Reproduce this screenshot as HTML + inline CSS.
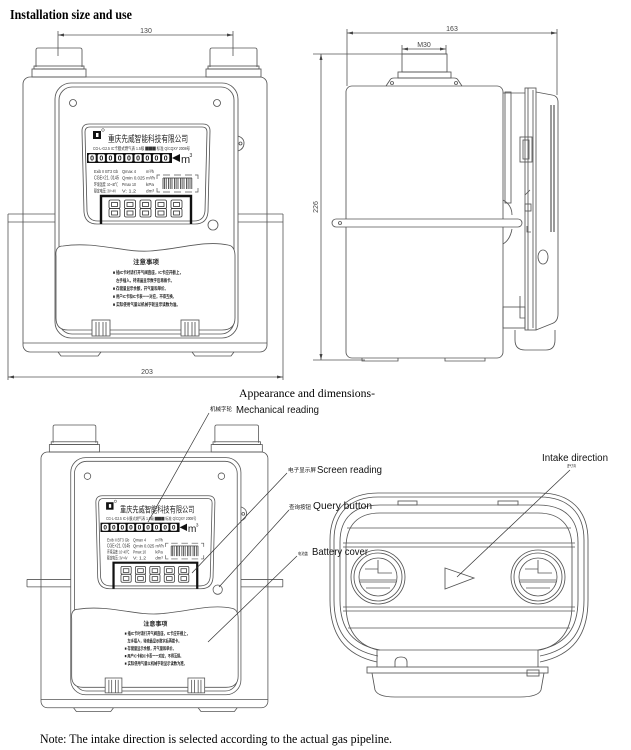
<!DOCTYPE html>
<html><head><meta charset="utf-8"><style>
html,body{margin:0;padding:0;background:#fff;}
svg{display:block}
</style></head><body>
<svg width="631" height="750" viewBox="0 0 631 750" xmlns="http://www.w3.org/2000/svg">
<defs>
<marker id="a" viewBox="0 0 8 4" refX="8" refY="2" markerWidth="6" markerHeight="3" orient="auto-start-reverse" markerUnits="userSpaceOnUse"><path d="M0,0 L8,2 L0,4z" fill="#444"/></marker>
<g id="fv">
 <g fill="none" stroke="#555" stroke-width="0.85">
  <path d="M36,67 V50 Q36,48 38,48 H80 Q82,48 82,50 V67"/>
  <rect x="34" y="66" width="50" height="3"/>
  <rect x="32" y="69" width="54" height="8"/>
  <path d="M210,67 V50 Q210,48 212,48 H255 Q257,48 257,50 V67"/>
  <rect x="208" y="66" width="51" height="3"/>
  <rect x="206" y="69" width="55" height="8"/>
  <rect x="23" y="77" width="244" height="275" rx="7"/>
  <line x1="23" y1="343" x2="267" y2="343"/>
  <path d="M58,352 L61,356 H98 L101,352 M192,352 L195,356 H231 L234,352"/>
  <rect x="55" y="83" width="183" height="255" rx="16"/>
  <rect x="59" y="87" width="175" height="247" rx="13"/>
  <path d="M238,136 Q244,138 244,143 Q244,149 238,151"/>
  <circle cx="240.5" cy="143.5" r="1.5"/>
  <circle cx="73" cy="103" r="3.5"/>
  <circle cx="217" cy="103" r="3.5"/>
  <circle cx="213" cy="225" r="5"/>
  <path d="M89,124 H203 Q210,124 210,131 L208,212 Q207,224 195,224 H97 Q85,224 84,212 L82,131 Q82,124 89,124 Z"/>
  <path d="M90,127 H202 Q207,127 207,132 L205,211 Q204,221 194,221 H98 Q88,221 87,211 L85,132 Q85,127 90,127 Z"/>
  <path d="M8,214 H55 M8,222 H55 M238,214 H283 M238,222 H283"/>
  <path d="M56,256 Q55,246 63,246 C95,241 125,253 150,251 C180,249 205,240 228,245 Q235,246 235,256 V318 Q235,330 222,330 H68 Q56,330 56,318 Z" fill="#fff"/>
  <rect x="92" y="320" width="18" height="16" fill="#fff"/>
  <path d="M96,322 V336 M99,322 V336 M103,322 V336 M106,322 V336"/>
  <rect x="181" y="320" width="18" height="16" fill="#fff"/>
  <path d="M185,322 V336 M188,322 V336 M192,322 V336 M195,322 V336"/>
  <path d="M160,175 H157 V179 M157,188 V192 H160 M195,175 H198 V179 M198,188 V192 H195 M163,175 H170 M174,175 H181 M185,175 H192 M163,192 H170 M174,192 H181 M185,192 H192" stroke-width="0.7"/>
  <path d="M163,178 H192 M163,178V189 M164.6,178V189 M166.2,178V189 M168.6,178V189 M170.2,178V189 M172,178V189 M174.5,178V189 M176.1,178V189 M178,178V189 M180.5,178V189 M182.1,178V189 M184,178V189 M186.5,178V189 M188.1,178V189 M190,178V189 M191.8,178V189" stroke="#333" stroke-width="0.8"/>
  <g stroke="#333" stroke-width="0.8">
   <rect x="109" y="200" width="11" height="8.5" rx="1.5"/><rect x="109" y="208.5" width="11" height="8.5" rx="1.5"/><rect x="111.5" y="202.5" width="6" height="4"/><rect x="111.5" y="211" width="6" height="4"/>
   <rect x="124.5" y="200" width="11" height="8.5" rx="1.5"/><rect x="124.5" y="208.5" width="11" height="8.5" rx="1.5"/><rect x="127" y="202.5" width="6" height="4"/><rect x="127" y="211" width="6" height="4"/>
   <rect x="140" y="200" width="11" height="8.5" rx="1.5"/><rect x="140" y="208.5" width="11" height="8.5" rx="1.5"/><rect x="142.5" y="202.5" width="6" height="4"/><rect x="142.5" y="211" width="6" height="4"/>
   <rect x="155.5" y="200" width="11" height="8.5" rx="1.5"/><rect x="155.5" y="208.5" width="11" height="8.5" rx="1.5"/><rect x="158" y="202.5" width="6" height="4"/><rect x="158" y="211" width="6" height="4"/>
   <rect x="171" y="200" width="11" height="8.5" rx="1.5"/><rect x="171" y="208.5" width="11" height="8.5" rx="1.5"/><rect x="173.5" y="202.5" width="6" height="4"/><rect x="173.5" y="211" width="6" height="4"/>
  </g>
  <path d="M101,224 V196 H191 V224" stroke="#111" stroke-width="2.4"/>
 </g>
 <rect x="93" y="131" width="8" height="8" fill="#111"/>
 <rect x="96" y="133" width="2.5" height="4" fill="#fff"/>
 <circle cx="103" cy="130" r="1.3" fill="none" stroke="#333" stroke-width="0.5"/>
 <text x="108" y="142" font-family="Liberation Sans, Noto Sans CJK SC, sans-serif" font-size="9" fill="#222" textLength="80" lengthAdjust="spacingAndGlyphs">重庆先威智能科技有限公司</text>
 <text x="93" y="150" font-family="Liberation Sans, Noto Sans CJK SC, sans-serif" font-size="4.5" fill="#333" textLength="97" lengthAdjust="spacingAndGlyphs">CG-L-G2.5  IC卡膜式燃气表  1.5级 ▇▇▇ 标准  Q/CQXY 2008号</text>
 <rect x="87" y="153" width="85" height="10" fill="#111"/>
 <g font-family="Liberation Sans, sans-serif" font-size="7" font-weight="bold" fill="#111" text-anchor="middle">
  <rect x="88.5" y="154.3" width="7.2" height="7.4" rx="1.5" fill="#fff"/><text x="92.1" y="160.6">0</text>
  <rect x="97.7" y="154.3" width="7.2" height="7.4" rx="1.5" fill="#fff"/><text x="101.3" y="160.6">0</text>
  <rect x="106.9" y="154.3" width="7.2" height="7.4" rx="1.5" fill="#fff"/><text x="110.5" y="160.6">0</text>
  <rect x="116.1" y="154.3" width="7.2" height="7.4" rx="1.5" fill="#fff"/><text x="119.7" y="160.6">0</text>
  <rect x="125.3" y="154.3" width="7.2" height="7.4" rx="1.5" fill="#fff"/><text x="128.9" y="160.6">0</text>
  <rect x="134.5" y="154.3" width="7.2" height="7.4" rx="1.5" fill="#fff"/><text x="138.1" y="160.6">0</text>
  <rect x="143.7" y="154.3" width="7.2" height="7.4" rx="1.5" fill="#fff"/><text x="147.3" y="160.6">0</text>
  <rect x="152.9" y="154.3" width="7.2" height="7.4" rx="1.5" fill="#fff"/><text x="156.5" y="160.6">0</text>
  <rect x="162.1" y="154.3" width="7.2" height="7.4" rx="1.5" fill="#fff"/><text x="165.7" y="160.6">0</text>
 </g>
 <polygon points="172,158 180,154 180,162" fill="#111"/>
 <text x="181" y="163" font-family="Liberation Sans, sans-serif" font-size="11" fill="#222">m</text>
 <text x="189.5" y="157" font-family="Liberation Sans, sans-serif" font-size="5" fill="#222">3</text>
 <g font-family="Liberation Sans, Noto Sans CJK SC, sans-serif" font-size="4.8" fill="#333">
  <text x="94" y="173" textLength="24" lengthAdjust="spacingAndGlyphs">Exib II BT3 Gb</text>
  <text x="122" y="173" textLength="14" lengthAdjust="spacingAndGlyphs">Qmax 4</text>
  <text x="146" y="173" textLength="8" lengthAdjust="spacingAndGlyphs">m³/h</text>
  <text x="94" y="179.5" font-size="5.5" textLength="25" lengthAdjust="spacingAndGlyphs">CGE×21. 0145</text>
  <text x="122" y="179.5" textLength="33" lengthAdjust="spacingAndGlyphs">Qmin 0.025 m³/h</text>
  <text x="94" y="186" textLength="24" lengthAdjust="spacingAndGlyphs">环境温度: 10~40℃</text>
  <text x="122" y="186" textLength="14" lengthAdjust="spacingAndGlyphs">Pmax 10</text>
  <text x="146" y="186" textLength="8" lengthAdjust="spacingAndGlyphs">kPa</text>
  <text x="94" y="192.5" textLength="22" lengthAdjust="spacingAndGlyphs">额定电压: 3V~4V</text>
  <text x="122" y="192.5" textLength="14" lengthAdjust="spacingAndGlyphs">V:  1.2</text>
  <text x="146" y="192.5" textLength="8" lengthAdjust="spacingAndGlyphs">dm³</text>
 </g>
 <g font-family="Liberation Sans, Noto Sans CJK SC, sans-serif" font-weight="bold" fill="#222">
  <text x="146" y="264" font-size="6.5" text-anchor="middle">注意事项</text>
  <text x="113" y="274" font-size="4.8" textLength="70" lengthAdjust="spacingAndGlyphs">■ 插IC卡时请打开气阀直座，IC卡应开截上，</text>
  <text x="116" y="282" font-size="4.8" textLength="58" lengthAdjust="spacingAndGlyphs">左手插入，待液晶显示数字后再拨卡。</text>
  <text x="113" y="290" font-size="4.8" textLength="55" lengthAdjust="spacingAndGlyphs">■ 存储量显示余额，开气量和单价。</text>
  <text x="113" y="298" font-size="4.8" textLength="63" lengthAdjust="spacingAndGlyphs">■ 用户IC卡和IC卡表一一对应，不得互换。</text>
  <text x="113" y="306" font-size="4.8" textLength="67" lengthAdjust="spacingAndGlyphs">■ 实际使用气量以机械字轮显示读数为准。</text>
 </g>
</g>
</defs>

<text x="10" y="19" font-family="Liberation Serif, serif" font-weight="bold" font-size="13.5" fill="#000" textLength="122" lengthAdjust="spacingAndGlyphs">Installation size and use</text>

<!-- top front view -->
<use href="#fv"/>
<g fill="none" stroke="#555" stroke-width="0.8">
 <path d="M58,31 V56 M233,31 V56"/>
 <line x1="58" y1="35" x2="233" y2="35" marker-start="url(#a)" marker-end="url(#a)"/>
 <path d="M8,214 V380 M283,214 V380"/>
 <line x1="8" y1="377" x2="283" y2="377" marker-start="url(#a)" marker-end="url(#a)"/>
</g>
<g font-family="Liberation Sans, sans-serif" font-size="7" fill="#444" text-anchor="middle">
 <text x="146" y="33">130</text>
 <text x="147" y="374">203</text>
 <text x="452" y="31">163</text>
 <text x="424" y="47">M30</text>
 <text x="0" y="0" transform="translate(318,207) rotate(-90)">226</text>
</g>

<!-- side view -->
<g fill="none" stroke="#555" stroke-width="0.8">
 <path d="M347,29 V86 M557,29 V95"/>
 <line x1="347" y1="33" x2="557" y2="33" marker-start="url(#a)" marker-end="url(#a)"/>
 <path d="M402,45 V54 M446,45 V54"/>
 <line x1="402" y1="49" x2="446" y2="49" marker-start="url(#a)" marker-end="url(#a)"/>
 <path d="M313,54 H447 M313,360 H365"/>
 <line x1="321" y1="54" x2="321" y2="360" marker-start="url(#a)" marker-end="url(#a)"/>
</g>
<g fill="none" stroke="#555" stroke-width="0.85">
 <rect x="402" y="54" width="45" height="18"/>
 <rect x="398" y="72" width="53" height="6"/>
 <path d="M386,86 L390,80 Q391,78 394,78 H454 Q457,78 458,80 L462,86"/>
 <circle cx="392" cy="83" r="1.5"/><circle cx="456" cy="83" r="1.5"/>
 <rect x="346" y="86" width="157" height="272" rx="6"/>
 <path d="M362,358 V361 H398 V358 M445,358 V361 H485 V358"/>
 <path d="M503,200 Q512,205 512,215 M512,229 Q510,240 503,244"/>
 <rect x="332" y="219" width="190" height="8" rx="4" fill="#fff"/>
 <circle cx="340" cy="223" r="1.5"/>
 <path d="M503,93 H525"/>
 <rect x="505" y="92" width="6" height="111"/>
 <rect x="525" y="88" width="11" height="242"/>
 <line x1="528" y1="88" x2="528" y2="330"/>
 <line x1="533" y1="90" x2="533" y2="328"/>
 <path d="M536,92 L552,95 Q558,96 558,102 V314 Q558,322 551,324 L536,330"/>
 <path d="M551,105 V232 M554,105 V232" stroke="#333" stroke-width="1"/>
 <rect x="520" y="137" width="12" height="25"/>
 <rect x="523" y="140" width="6" height="19"/>
 <rect x="525" y="204" width="6" height="7"/>
 <path d="M525,195 L530,190 M527,226 V232 H531"/>
 <ellipse cx="543" cy="257" rx="5" ry="7"/>
 <path d="M515,330 V340 Q515,350 525,350 H546 Q555,350 555,340 V330"/>
 <rect x="503" y="307" width="22" height="21"/>
 <path d="M520,296 V318 H525"/>
</g>

<!-- bottom front view -->
<use href="#fv" transform="translate(19.6,380.4) scale(0.93)"/>
<path d="M27,579.4 V586.9 M282.8,579.4 V586.9" stroke="#555" stroke-width="0.8" fill="none"/>

<!-- bottom right view -->
<g fill="none" stroke="#555" stroke-width="0.85">
 <path d="M377,662 C345,655 330,635 330,600 V540 C330,510 348,493 378,493 H540 C570,493 588,510 588,540 V600 C588,635 573,655 540,662"/>
 <path d="M378,656 C348,650 334,632 334,600 V540 C334,513 350,497 378,497 H540 C568,497 584,513 584,540 V600 C584,632 570,650 540,656"/>
 <path d="M380,650 C352,645 340,628 340,600 V542 C340,518 354,505 380,505 H538 C564,505 578,518 578,542 V600 C578,628 566,645 538,650"/>
 <path d="M378,650 C356,645 346,628 346,605 V548 C346,525 358,513 380,513 H538 C560,513 572,525 572,548 V605 C572,628 562,645 540,650 Z"/>
 <path d="M347,528 H571 M343,543 H575 M343,547 H575 M343,607 H575 M343,611 H575 M348,628 H570"/>
 <rect x="398" y="501" width="19" height="4"/>
 <rect x="498" y="501" width="20" height="4"/>
 <circle cx="378" cy="577" r="27" fill="#fff"/>
 <circle cx="378" cy="577" r="24"/>
 <circle cx="378" cy="577" r="19"/>
 <path d="M365,569 H378 M378,560 V573 H392 M360,580 H396 M360,582 H396 M366,588 H390"/>
 <circle cx="538" cy="577" r="27" fill="#fff"/>
 <circle cx="538" cy="577" r="24"/>
 <circle cx="538" cy="577" r="19"/>
 <path d="M525,569 H538 M538,560 V573 H552 M520,580 H556 M520,582 H556 M526,588 H550"/>
 <polygon points="445,568 474,578 445,589"/>
 <path d="M377,650 V667 M538,650 V667"/>
 <path d="M395,667 V662 Q395,657 401,657 Q407,657 407,662 V667"/>
 <rect x="367" y="667" width="181" height="6"/>
 <rect x="527" y="670" width="12" height="6"/>
 <path d="M372,673 L375,690 Q378,697 395,697 H520 Q538,697 541,690 L544,673"/>
</g>

<text x="239" y="397" font-family="Liberation Serif, serif" font-size="12" fill="#000" textLength="136" lengthAdjust="spacingAndGlyphs">Appearance and dimensions-</text>

<g stroke="#333" stroke-width="0.7" fill="none">
 <line x1="209" y1="413" x2="148" y2="522"/>
 <line x1="287" y1="473" x2="192" y2="573"/>
 <line x1="289" y1="510" x2="219" y2="587"/>
 <line x1="297" y1="556" x2="208" y2="642"/>
 <line x1="570" y1="470" x2="457" y2="577"/>
</g>
<g font-family="Liberation Sans, Noto Sans CJK SC, sans-serif" fill="#111">
 <text x="210" y="411" font-size="5.5" textLength="22" lengthAdjust="spacingAndGlyphs">机械字轮</text>
 <text x="236" y="413" font-size="10.5" textLength="83" lengthAdjust="spacingAndGlyphs">Mechanical reading</text>
 <text x="288" y="472" font-size="5.5" textLength="28" lengthAdjust="spacingAndGlyphs">电子显示屏</text>
 <text x="317" y="473" font-size="10.5" textLength="65" lengthAdjust="spacingAndGlyphs">Screen reading</text>
 <text x="289" y="509" font-size="5.5" textLength="22" lengthAdjust="spacingAndGlyphs">查询按钮</text>
 <text x="313" y="509" font-size="10.5" textLength="59" lengthAdjust="spacingAndGlyphs">Query button</text>
 <text x="298" y="555" font-size="4" textLength="10" lengthAdjust="spacingAndGlyphs">电池盖</text>
 <text x="312" y="555" font-size="10.5" textLength="56" lengthAdjust="spacingAndGlyphs">Battery cover</text>
 <text x="542" y="461" font-size="10" textLength="66" lengthAdjust="spacingAndGlyphs">Intake direction</text>
 <text x="567" y="467" font-size="3.5" textLength="9" lengthAdjust="spacingAndGlyphs">进气方向</text>
</g>

<text x="40" y="743" font-family="Liberation Serif, serif" font-size="12.5" fill="#000" textLength="352" lengthAdjust="spacingAndGlyphs">Note: The intake direction is selected according to the actual gas pipeline.</text>
</svg>
</body></html>
